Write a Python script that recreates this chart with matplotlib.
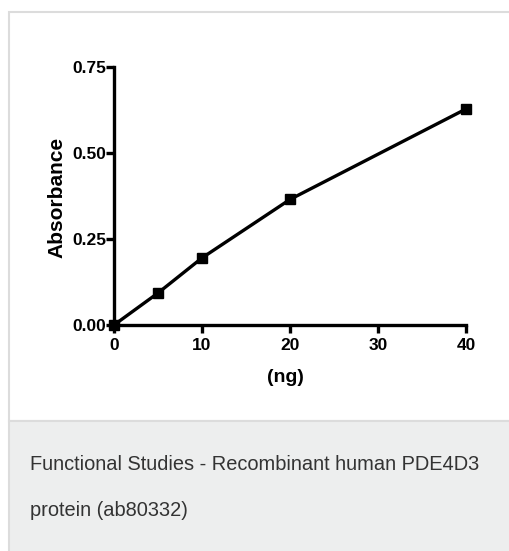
import matplotlib
matplotlib.use("Agg")
import matplotlib.pyplot as plt
from matplotlib.patches import Rectangle

# data
ng = [0, 5, 10, 20, 40]
absorbance = [0.0, 0.093, 0.195, 0.365, 0.628]
x_ticks = [0, 10, 20, 30, 40]
y_ticks = [0.0, 0.25, 0.5, 0.75]
y_tick_labels = ["0.00", "0.25", "0.50", "0.75"]
caption = ["Functional Studies - Recombinant human PDE4D3", "protein (ab80332)"]

W, H = 510, 551
plt.rcParams["font.family"] = ["Liberation Sans", "DejaVu Sans"]

fig = plt.figure(figsize=(W / 100, H / 100), dpi=100)
fig.patch.set_facecolor("white")

# panel frame and grey caption area
fig.patches.append(Rectangle((9 / W, (H - 421) / H), 1.0, 409 / H, transform=fig.transFigure,
                             facecolor="white", edgecolor="#dcdcdc", linewidth=1.5, zorder=-2))
fig.patches.append(Rectangle((9 / W, -0.05), 1.0, (H - 421) / H + 0.05, transform=fig.transFigure,
                             facecolor="#edeeee", edgecolor="#dcdcdc", linewidth=1.5, zorder=-2))

left, right, top, bottom = 114, 466, 67, 325
ax = fig.add_axes([left / W, (H - bottom) / H, (right - left) / W, (bottom - top) / H])
ax.set_zorder(2)
ax.patch.set_alpha(0)

ax.plot(ng, absorbance, color="black", linewidth=2.4, marker="s", markersize=6.5,
        clip_on=False, zorder=5)

ax.set_xlim(0, 40)
ax.set_ylim(0, 0.75)
ax.set_xticks(x_ticks)
ax.set_yticks(y_ticks)
ax.set_yticklabels(y_tick_labels)
for s in ["top", "right"]:
    ax.spines[s].set_visible(False)
for s in ["left", "bottom"]:
    ax.spines[s].set_linewidth(2.4)
ax.tick_params(axis="both", direction="out", length=5.5, width=2.4, labelsize=12.5)
ax.tick_params(axis="y", pad=0.3)
ax.tick_params(axis="x", pad=3.5)
for lab in ax.get_xticklabels() + ax.get_yticklabels():
    lab.set_fontweight("bold")

fig.text(57 / W, 1 - 197 / H, "Absorbance", rotation=90, ha="center", va="center",
         fontsize=15, fontweight="bold", zorder=3)
fig.text(285 / W, 1 - 377 / H, "(ng)", ha="center", va="center", fontsize=14,
         fontweight="bold", zorder=3)

fig.text(30 / W, 1 - 465 / H, caption[0], ha="left", va="center", fontsize=14.4,
         color="#333333", zorder=3)
fig.text(30 / W, 1 - 510 / H, caption[1], ha="left", va="center", fontsize=14.4,
         color="#333333", zorder=3)

fig.savefig("out.png", dpi=100)
